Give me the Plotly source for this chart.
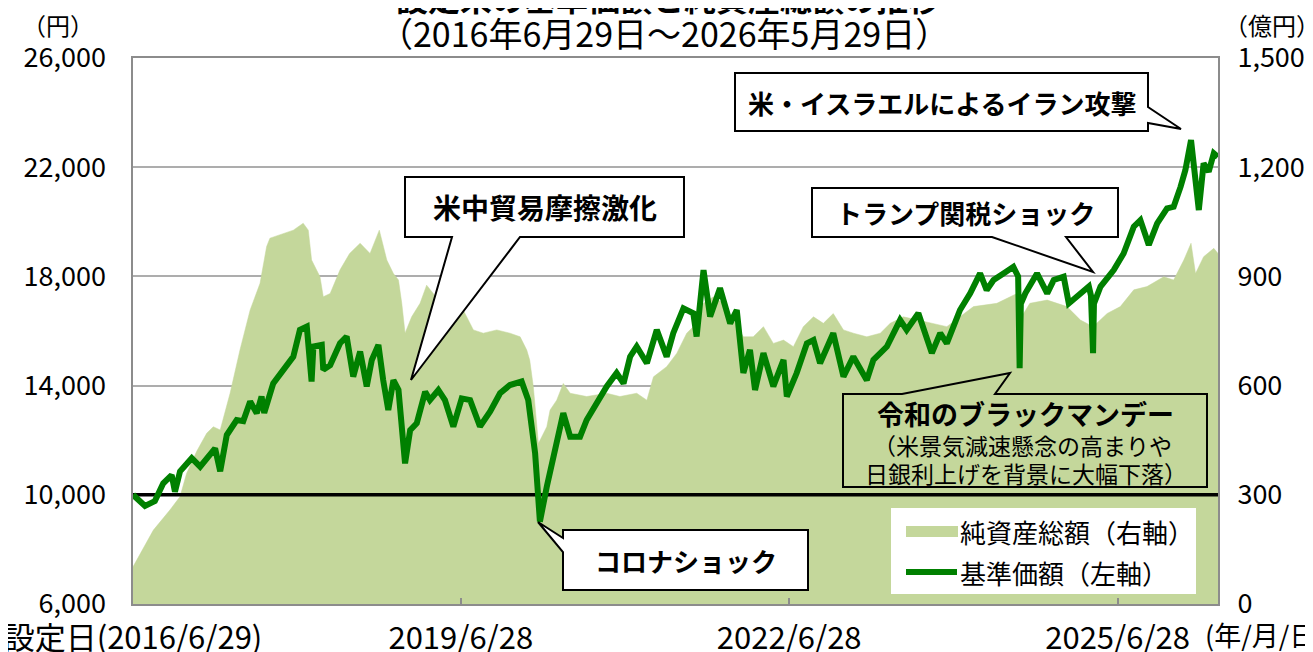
import plotly.graph_objects as go

# ---------------- data ----------------
nav_dates = [
    "2016-06-29", "2016-08-08", "2016-09-10", "2016-10-08", "2016-11-05", "2016-11-16", "2016-12-03",
    "2017-01-11", "2017-02-08", "2017-03-30", "2017-04-16", "2017-05-08", "2017-06-10", "2017-07-02",
    "2017-07-25", "2017-08-16", "2017-09-01", "2017-09-10", "2017-10-10", "2017-11-24", "2017-12-16",
    "2018-01-07", "2018-01-30", "2018-02-15", "2018-02-21", "2018-03-21", "2018-03-26", "2018-04-18",
    "2018-05-21", "2018-06-12", "2018-07-04", "2018-07-27", "2018-08-18", "2018-09-04", "2018-09-26",
    "2018-10-12", "2018-10-29", "2018-11-15", "2018-12-02", "2018-12-24", "2019-01-10", "2019-02-01",
    "2019-03-01", "2019-03-17", "2019-04-14", "2019-05-06", "2019-06-03", "2019-07-01", "2019-07-29",
    "2019-08-31", "2019-10-04", "2019-11-06", "2019-12-09", "2020-01-17", "2020-02-08", "2020-03-02",
    "2020-03-18", "2020-04-10", "2020-05-13", "2020-06-04", "2020-06-27", "2020-07-30", "2020-08-21",
    "2020-09-24", "2020-10-27", "2020-11-29", "2020-12-22", "2021-01-13", "2021-02-04", "2021-03-10",
    "2021-04-12", "2021-05-15", "2021-06-06", "2021-07-10", "2021-08-12", "2021-08-23", "2021-09-15",
    "2021-10-07", "2021-11-09", "2021-12-13", "2022-01-04", "2022-01-26", "2022-02-17", "2022-03-06",
    "2022-04-03", "2022-05-06", "2022-06-09", "2022-06-20", "2022-07-23", "2022-08-26", "2022-09-17",
    "2022-10-09", "2022-11-22", "2022-12-26", "2023-01-28", "2023-03-14", "2023-04-05", "2023-05-20",
    "2023-07-03", "2023-07-25", "2023-09-02", "2023-10-17", "2023-11-14", "2023-12-06", "2024-01-19",
    "2024-02-22", "2024-03-26", "2024-04-17", "2024-05-10", "2024-06-12", "2024-07-15", "2024-07-31",
    "2024-08-05", "2024-08-09", "2024-08-24", "2024-10-02", "2024-11-05", "2024-11-27", "2024-12-30",
    "2025-01-16", "2025-02-24", "2025-03-24", "2025-03-31", "2025-04-07", "2025-04-10", "2025-05-02",
    "2025-06-15", "2025-07-18", "2025-08-21", "2025-09-12", "2025-10-10", "2025-11-07", "2025-12-10",
    "2026-01-01", "2026-01-24", "2026-02-09", "2026-02-28", "2026-03-15", "2026-03-26", "2026-04-11",
    "2026-04-28", "2026-05-15", "2026-05-29",
]
nav_values = [
    10000, 9590, 9770, 10420, 10725, 10113, 10860,
    11340, 11030, 11700, 10860, 12190, 12740, 12700,
    13420, 12990, 13600, 13000, 14080, 14750, 15060,
    16040, 16160, 14150, 15430, 15490, 14580, 14750,
    15550, 15800, 14330, 15250, 13970, 14940, 15490,
    14200, 13110, 14200, 13840, 11150, 12370, 12620,
    13770, 13470, 13840, 13470, 12500, 13530, 13470,
    12500, 13050, 13720, 14020, 14150, 13470, 11520,
    9020, 10300, 11890, 12990, 12130, 12130, 12740,
    13360, 13970, 14460, 14080, 15060, 15430, 14820,
    16040, 15060, 15920, 16830, 16650, 15800, 18230,
    16530, 17570, 16280, 16770, 14460, 15310, 13840,
    15190, 13970, 14940, 13600, 14460, 15550, 15670,
    14820, 15920, 14330, 15060, 14200, 14940, 15430,
    16400, 16040, 16650, 15190, 15920, 15550, 16770,
    17380, 18110, 17500, 17870, 18110, 18350, 18000,
    14640, 17000, 17380, 18110, 17380, 17870, 17990,
    17010, 17380, 17630, 17300, 15190, 17000, 17630,
    18230, 18840, 19820, 20060, 19150, 19940, 20490,
    20550, 21280, 21890, 22990, 21280, 20430, 22140,
    21840, 22510, 22380,
]

aum_dates = [
    "2016-06-29", "2016-09-05", "2016-10-30", "2016-12-03", "2016-12-25", "2017-01-28", "2017-03-02",
    "2017-03-24", "2017-04-16", "2017-05-19", "2017-06-21", "2017-07-25", "2017-08-27", "2017-09-18",
    "2017-09-29", "2017-11-13", "2017-12-16", "2018-01-18", "2018-02-04", "2018-02-15", "2018-03-15",
    "2018-03-26", "2018-04-18", "2018-05-21", "2018-06-22", "2018-07-27", "2018-08-29", "2018-09-29",
    "2018-10-24", "2018-11-15", "2018-12-02", "2018-12-13", "2018-12-24", "2019-01-15", "2019-02-12",
    "2019-03-06", "2019-03-28", "2019-05-01", "2019-06-03", "2019-07-06", "2019-08-09", "2019-09-11",
    "2019-10-26", "2019-12-09", "2020-01-12", "2020-02-03", "2020-02-13", "2020-02-25", "2020-03-13",
    "2020-04-10", "2020-04-21", "2020-05-13", "2020-06-04", "2020-06-27", "2020-08-21", "2020-10-27",
    "2020-12-10", "2021-02-04", "2021-03-10", "2021-04-01", "2021-05-15", "2021-06-18", "2021-07-21",
    "2021-08-23", "2021-09-15", "2021-10-18", "2021-11-20", "2021-12-24", "2022-01-26", "2022-02-28",
    "2022-04-03", "2022-05-06", "2022-06-09", "2022-07-12", "2022-08-14", "2022-09-17", "2022-10-20",
    "2022-11-22", "2022-12-26", "2023-01-28", "2023-03-14", "2023-04-28", "2023-05-31", "2023-07-14",
    "2023-08-28", "2023-12-06", "2024-03-04", "2024-05-21", "2024-07-27", "2024-08-05", "2024-09-08",
    "2024-11-05", "2025-01-10", "2025-02-24", "2025-04-07", "2025-05-24", "2025-07-07", "2025-08-21",
    "2025-10-04", "2025-11-29", "2026-01-01", "2026-02-04", "2026-02-28", "2026-03-15", "2026-04-11",
    "2026-05-15", "2026-05-29",
]
aum_values = [
    102, 203, 258, 295, 359, 420, 469,
    487, 478, 579, 698, 808, 881, 982,
    1005, 1018, 1027, 1046, 1027, 945, 899,
    844, 853, 918, 963, 991, 963, 1027,
    945, 908, 890, 826, 744, 789, 826,
    876, 853, 808, 789, 808, 753, 744,
    753, 744, 734, 698, 670, 597, 441,
    487, 533, 560, 606, 579, 570, 579,
    570, 579, 560, 624, 652, 689, 744,
    771, 826, 844, 826, 780, 734, 734,
    762, 716, 725, 707, 762, 789, 771,
    798, 753, 744, 734, 744, 771, 789,
    780, 762, 817, 826, 853, 780, 826,
    835, 817, 780, 762, 798, 817, 863,
    872, 899, 890, 945, 991, 908, 954,
    977, 963,
]

BASE_VALUE = 10000
x_range = ["2016-06-29", "2026-05-29"]
x_tick_vals = ["2016-06-29", "2019-06-28", "2022-06-28", "2025-06-28"]
x_tick_text = ["設定日(2016/6/29)", "2019/6/28", "2022/6/28", "2025/6/28"]
left_ticks = [6000, 10000, 14000, 18000, 22000, 26000]
right_ticks = [0, 300, 600, 900, 1200, 1500]

# ---------------- layout helpers ----------------
W, H = 1313, 652
OFF = 8  # page body margin offset of the figure inside the browser window
PL, PR, PT, PB = 133, 1218, 58, 604  # plot area in window pixels


def fx(x):
    return (x - PL) / (PR - PL)


def fy(y):
    return (PB - y) / (PB - PT)


FONT = "Noto Sans CJK JP"
AREA_COLOR = "#C4D79B"
LINE_COLOR = "#008000"
GRID_COLOR = "#ADADAD"
BORDER_COLOR = "#8C8C8C"

fig = go.Figure()

# Net assets (right axis) as base axis so it is drawn below the NAV line
fig.add_trace(go.Scatter(
    x=aum_dates, y=aum_values, yaxis="y", mode="lines",
    fill="tozeroy", fillcolor=AREA_COLOR,
    line=dict(width=0.5, color=AREA_COLOR),
    name="純資産総額（右軸）", showlegend=False, hoverinfo="skip",
))
# base value reference line (left axis)
fig.add_trace(go.Scatter(
    x=x_range, y=[BASE_VALUE, BASE_VALUE], yaxis="y2", mode="lines",
    line=dict(width=3.5, color="black"), showlegend=False, hoverinfo="skip",
))
# NAV (left axis)
fig.add_trace(go.Scatter(
    x=nav_dates, y=nav_values, yaxis="y2", mode="lines",
    line=dict(width=6, color=LINE_COLOR),
    name="基準価額（左軸）", showlegend=False,
))


def path_from(points, close=True):
    s = "M " + " L ".join(f"{fx(x):.5f},{fy(y):.5f}" for x, y in points)
    return s + (" Z" if close else "")


shapes = []
# speech bubbles (callouts)
bubbles = [
    [(405, 177), (684, 177), (684, 237), (520, 237), (411, 380), (452, 237), (405, 237)],
    [(563, 530), (808, 530), (808, 590), (563, 590), (563, 552), (538, 522), (563, 538)],
    [(812, 188), (1118, 188), (1118, 237), (1066, 237), (1093, 272), (992, 237), (812, 237)],
    [(735, 73), (1148, 73), (1148, 107), (1181, 129), (1148, 123), (1148, 131), (735, 131)],
]
for pts in bubbles:
    shapes.append(dict(type="path", xref="paper", yref="paper", path=path_from(pts),
                       fillcolor="white", line=dict(color="black", width=2), layer="above"))
# Reiwa Black Monday box (transparent)
shapes.append(dict(type="path", xref="paper", yref="paper",
                   path=path_from([(843, 394), (902, 394), (1010, 373), (995, 394), (1207, 394),
                                   (1207, 487), (843, 487)]),
                   fillcolor="rgba(0,0,0,0)", line=dict(color="black", width=2), layer="above"))

# manual legend
shapes.append(dict(type="rect", xref="paper", yref="paper", x0=fx(891), x1=fx(1196), y0=fy(594), y1=fy(508),
                   fillcolor="white", line=dict(width=0), layer="above"))
shapes.append(dict(type="rect", xref="paper", yref="paper", x0=fx(906), x1=fx(958), y0=fy(537), y1=fy(526),
                   fillcolor=AREA_COLOR, line=dict(width=0), layer="above"))
shapes.append(dict(type="line", xref="paper", yref="paper", x0=fx(906), x1=fx(957), y0=fy(572), y1=fy(572),
                   line=dict(color=LINE_COLOR, width=6), layer="above"))

annotations = []


def note(text, x, y, size, bold=False, xanchor="center"):
    t = f"<b>{text}</b>" if bold else text
    annotations.append(dict(text=t, x=fx(x), y=fy(y), xref="paper", yref="paper",
                            xanchor=xanchor, yanchor="middle", showarrow=False,
                            font=dict(family=FONT, size=size, color="black")))


note("設定来の基準価額と純資産総額の推移", 668, -3, 32, bold=True)
note("（2016年6月29日～2026年5月29日）", 664, 33, 34)
note("（円）", 58, 24, 24)
note("（億円）", 1272, 24, 24)
note("(年/月/日)", 1203, 634, 27, xanchor="left")
note("米中貿易摩擦激化", 545, 207, 28, bold=True)
note("コロナショック", 686, 560, 26, bold=True)
note("トランプ関税ショック", 965, 212, 26, bold=True)
note("米・イスラエルによるイラン攻撃", 942, 102, 26, bold=True)
note("令和のブラックマンデー", 1025, 413, 27, bold=True)
note("（米景気減速懸念の高まりや", 1022, 445, 23)
note("日銀利上げを背景に大幅下落）", 1026, 473, 23)
note("純資産総額（右軸）", 958, 531, 26, xanchor="left")
note("基準価額（左軸）", 958, 572, 26, xanchor="left")

fig.update_layout(
    width=W, height=H,
    margin=dict(l=PL - OFF, r=W - (PR - OFF), t=PT - OFF, b=H - (PB - OFF), autoexpand=False),
    paper_bgcolor="white", plot_bgcolor="white",
    font=dict(family=FONT, size=26, color="black"),
    showlegend=False,
    xaxis=dict(
        type="date", range=x_range, tickvals=x_tick_vals, ticktext=x_tick_text,
        showgrid=False, showline=True, linecolor=BORDER_COLOR, linewidth=2, mirror=True,
        ticks="inside", ticklen=6, tickcolor=BORDER_COLOR, tickwidth=1.5,
        tickfont=dict(family=FONT, size=31, color="black"), ticklabelstandoff=6,
        ticklabeloverflow="allow", zeroline=False,
    ),
    yaxis=dict(
        side="right", range=[0, 1500], tickvals=right_ticks,
        ticktext=[f"{v:,}" for v in right_ticks],
        showgrid=True, gridcolor=GRID_COLOR, gridwidth=1.5,
        showline=True, linecolor=BORDER_COLOR, linewidth=2, mirror=True,
        ticks="", tickfont=dict(family=FONT, size=27, color="black"), ticklabelstandoff=12,
        zeroline=False,
    ),
    yaxis2=dict(
        side="left", overlaying="y", range=[6000, 26000], tickvals=left_ticks,
        ticktext=[f"{v:,}" for v in left_ticks],
        showgrid=False, showline=False, ticks="",
        tickfont=dict(family=FONT, size=27, color="black"), ticklabelstandoff=26,
        zeroline=False,
    ),
    shapes=shapes,
    annotations=annotations,
)

fig.write_html("out.html")
